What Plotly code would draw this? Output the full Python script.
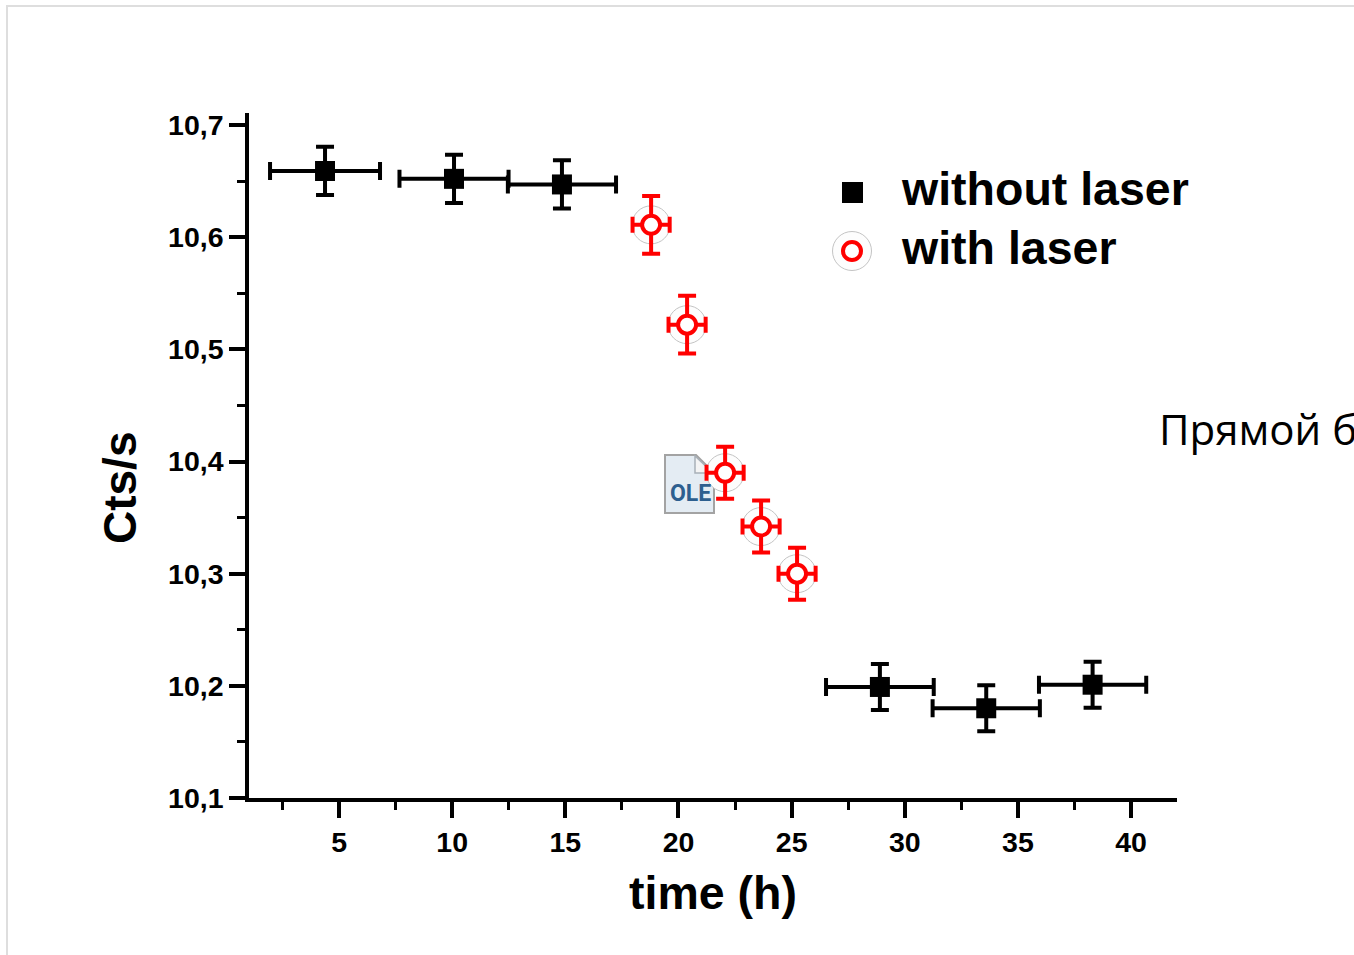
import plotly.graph_objects as go

# Data
without_time = [4.38, 10.08, 14.85, 28.9, 33.6, 38.3]
without_cts = [10.659, 10.652, 10.647, 10.199, 10.18, 10.201]
without_time_err = [2.43, 2.41, 2.39, 2.38, 2.37, 2.37]
without_cts_err = [0.0215, 0.0215, 0.0215, 0.0205, 0.0205, 0.0205]

with_time = [18.79, 20.38, 22.06, 23.65, 25.24]
with_cts = [10.611, 10.522, 10.39, 10.342, 10.3]
with_time_err = [0.82, 0.82, 0.82, 0.82, 0.82]
with_cts_err = [0.0258, 0.0258, 0.0232, 0.0232, 0.0232]

x_tick_vals = [5, 10, 15, 20, 25, 30, 35, 40]
x_tick_text = ["5", "10", "15", "20", "25", "30", "35", "40"]
y_tick_vals = [10.1, 10.2, 10.3, 10.4, 10.5, 10.6, 10.7]
y_tick_text = ["10,1", "10,2", "10,3", "10,4", "10,5", "10,6", "10,7"]

W, H = 1354, 955
FONT = "Liberation Sans, Arial, sans-serif"


def px(x):
    return x / W


def py(y):
    return 1 - y / H


def circle(cx, cy, r, **kw):
    return dict(type="circle", xref="paper", yref="paper",
                x0=px(cx - r), x1=px(cx + r), y0=py(cy + r), y1=py(cy - r), **kw)


fig = go.Figure()

# Grey halo round each "with laser" point
fig.add_trace(go.Scatter(
    x=with_time, y=with_cts, mode="markers", showlegend=False, hoverinfo="skip",
    marker=dict(symbol="circle", size=38, color="rgba(253,253,253,1)",
                line=dict(color="#c4c4c4", width=1)),
))
fig.add_trace(go.Scatter(
    x=without_time, y=without_cts, mode="markers", name="without laser", showlegend=False,
    marker=dict(symbol="square", size=20, color="black"),
    error_x=dict(type="data", array=without_time_err, color="black", thickness=4, width=9),
    error_y=dict(type="data", array=without_cts_err, color="black", thickness=4, width=9),
))
fig.add_trace(go.Scatter(
    x=with_time, y=with_cts, mode="markers", name="with laser", showlegend=False,
    marker=dict(symbol="circle", size=18, color="white", line=dict(color="#ff0000", width=4)),
    error_x=dict(type="data", array=with_time_err, color="#ff0000", thickness=4, width=8),
    error_y=dict(type="data", array=with_cts_err, color="#ff0000", thickness=4, width=9),
))

shapes = [
    # page frame
    dict(type="line", xref="paper", yref="paper", x0=px(7), x1=px(7), y0=0, y1=py(5),
         line=dict(color="#dedede", width=2)),
    dict(type="line", xref="paper", yref="paper", x0=px(7), x1=1, y0=py(6), y1=py(6),
         line=dict(color="#dedede", width=2)),
    # OLE icon
    dict(type="path", xref="paper", yref="paper",
         path=(f"M {px(665)} {py(455)} L {px(696)} {py(455)} L {px(714)} {py(473)} "
               f"L {px(714)} {py(513)} L {px(665)} {py(513)} Z"),
         fillcolor="#e4ecf3", line=dict(color="#a3a3a3", width=2), layer="below"),
    dict(type="path", xref="paper", yref="paper",
         path=f"M {px(695)} {py(456)} L {px(695)} {py(473)} L {px(713)} {py(473)} Z",
         fillcolor="#f4f4f4", line=dict(color="#a8b0b8", width=1.5), layer="below"),
    # legend keys
    dict(type="rect", xref="paper", yref="paper", x0=px(842), x1=px(863), y0=py(203), y1=py(182),
         fillcolor="black", line=dict(width=0)),
    circle(852, 251, 19.5, fillcolor="#fdfdfd", line=dict(color="#c4c4c4", width=1)),
    circle(852, 251, 9, fillcolor="white", line=dict(color="#ff0000", width=4)),
]

annotations = [
    dict(text="<b>without laser</b>", x=px(899), y=py(189), xref="paper", yref="paper",
         xanchor="left", yanchor="middle", showarrow=False,
         font=dict(family=FONT, size=46.5, color="black")),
    dict(text="<b>with laser</b>", x=px(899), y=py(248), xref="paper", yref="paper",
         xanchor="left", yanchor="middle", showarrow=False,
         font=dict(family=FONT, size=46.5, color="black")),
    dict(text="<b>Cts/s</b>", x=px(120), y=py(488), xref="paper", yref="paper",
         xanchor="center", yanchor="middle", textangle=-90, showarrow=False,
         font=dict(family=FONT, size=46, color="black")),
    dict(text="Прямой б", x=px(1157), y=py(428), xref="paper", yref="paper",
         xanchor="left", yanchor="middle", showarrow=False,
         font=dict(family="Open Sans, sans-serif", size=42, color="black")),
    dict(text="<b>OLE</b>", x=px(690), y=py(494), xref="paper", yref="paper",
         xanchor="center", yanchor="middle", showarrow=False,
         font=dict(family="Roboto, sans-serif", size=23, color="#2d5f8f")),
]

fig.update_layout(
    width=W, height=H, margin=dict(l=0, r=0, t=0, b=0, pad=0),
    paper_bgcolor="white", plot_bgcolor="white", showlegend=False,
    shapes=shapes, annotations=annotations,
    font=dict(family=FONT, color="black"),
    xaxis=dict(
        automargin=False,
        domain=[px(249), px(1177)], range=[1.02, 42.03], showgrid=False, zeroline=False,
        showline=True, linecolor="black", linewidth=3.5,
        tickmode="array", tickvals=x_tick_vals, ticktext=[f"<b>{t}</b>" for t in x_tick_text],
        ticks="outside", ticklen=16, tickwidth=3.5, tickcolor="black",
        tickfont=dict(family=FONT, size=28.5, color="black"),
        minor=dict(tickmode="linear", tick0=2.5, dtick=5, ticks="outside", ticklen=8,
                   tickwidth=3, tickcolor="black", showgrid=False),
        title=dict(text="<b>time (h)</b>", standoff=20,
                   font=dict(family=FONT, size=46.5, color="black")),
    ),
    yaxis=dict(
        automargin=False,
        domain=[py(798), py(113)], range=[10.1, 10.7107], showgrid=False, zeroline=False,
        showline=True, linecolor="black", linewidth=3.5,
        tickmode="array", tickvals=y_tick_vals, ticktext=[f"<b>{t}</b>" for t in y_tick_text],
        ticks="outside", ticklen=16, tickwidth=3.5, tickcolor="black",
        tickfont=dict(family=FONT, size=28.5, color="black"),
        minor=dict(tickmode="linear", tick0=10.15, dtick=0.1, ticks="outside", ticklen=8,
                   tickwidth=3, tickcolor="black", showgrid=False),
    ),
)

fig.write_html("out.html", config=dict(displayModeBar=False),
               post_script="document.body.style.margin='0';document.body.style.overflow='hidden';")
